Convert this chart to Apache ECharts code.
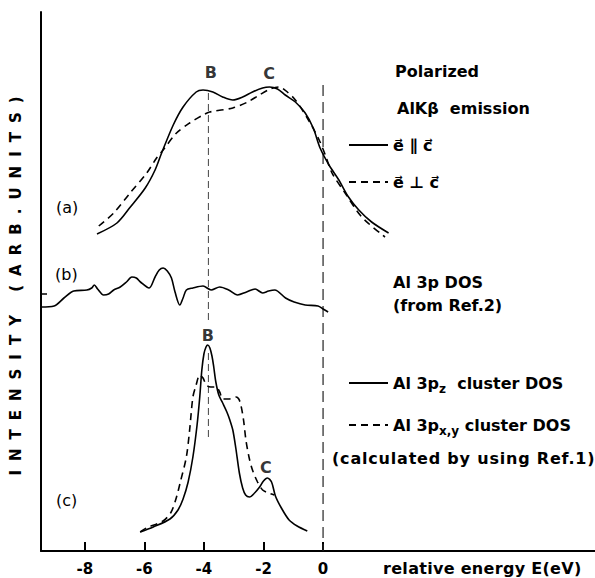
<!DOCTYPE html>
<html><head><meta charset="utf-8">
<script src="https://cdn.jsdelivr.net/npm/echarts@6/dist/echarts.min.js"></script>
<style>html,body{margin:0;padding:0;background:#fff}#c{width:595px;height:578px}</style>
</head><body><div id="c"></div>
<script>
// x: relative energy E (eV); y: intensity (arbitrary units, offsets stacked per panel)
const xTicks = [-8, -6, -4, -2, 0];
const yTicks = [257];

// (a) polarized AlKβ emission, e ∥ c (solid)
const emisPar = [[-7.59,317],[-6.92,328],[-6.47,344],[-5.97,363],[-5.64,381],[-5.42,398],[-5.03,426],[-4.70,444],[-4.26,459],[-4.03,461],[-3.70,459],[-3.37,454],[-3.03,451],[-2.70,454],[-2.37,459],[-2.03,463],[-1.80,464],[-1.53,462],[-1.27,456],[-0.93,449],[-0.60,438],[-0.33,423],[-0.10,403],[0.20,386],[0.53,371],[0.83,355],[1.20,341],[1.63,329],[2.20,318]];
// (a) e ⊥ c (dashed)
const emisPerp = [[-7.53,325],[-7.03,338],[-6.48,358],[-5.92,378],[-5.59,393],[-5.37,401],[-4.92,418],[-4.48,428],[-4.03,436],[-3.81,439],[-3.03,443],[-2.53,449],[-2.14,456],[-1.77,462],[-1.47,464],[-1.20,459],[-0.93,451],[-0.53,433],[-0.13,411],[0.10,394],[0.30,378],[0.74,358],[1.30,334],[2.08,314]];
// (b) Al 3p DOS (from Ref.2)
const dos3p = [[-9.47,244],[-9.03,245],[-8.70,253],[-8.37,260],[-7.93,261],[-7.77,263],[-7.68,266],[-7.57,262],[-7.37,256],[-7.20,257],[-7.03,261],[-6.81,264],[-6.60,269],[-6.42,274],[-6.27,273],[-6.13,269],[-5.84,263],[-5.64,274],[-5.50,281],[-5.37,283],[-5.23,280],[-5.09,273],[-4.97,259],[-4.81,246],[-4.70,253],[-4.59,261],[-4.37,263],[-4.03,265],[-3.76,261],[-3.47,264],[-3.17,261],[-2.87,256],[-2.57,259],[-2.28,262],[-2.03,258],[-1.83,260],[-1.62,261],[-1.26,253],[-0.97,249],[-0.60,246],[-0.17,245],[0.00,242],[0.17,239]];
// (c) Al 3pz cluster DOS (solid)
const clusterZ = [[-6.14,19],[-5.70,24],[-5.14,32],[-4.87,41],[-4.70,52],[-4.53,69],[-4.37,94],[-4.23,126],[-4.14,154],[-4.07,181],[-4.00,197],[-3.93,204],[-3.87,206],[-3.80,203],[-3.73,195],[-3.67,184],[-3.60,169],[-3.50,156],[-3.37,148],[-3.23,139],[-3.13,131],[-3.03,121],[-2.93,103],[-2.81,78],[-2.70,63],[-2.60,56],[-2.47,54],[-2.30,58],[-2.13,64],[-2.00,70],[-1.87,73],[-1.73,69],[-1.60,55],[-1.40,43],[-1.14,31],[-0.87,25],[-0.53,20]];
// (c) Al 3px,y cluster DOS (dashed)
const clusterXY = [[-6.14,19],[-5.93,23],[-5.37,30],[-5.10,39],[-4.92,54],[-4.80,68],[-4.59,94],[-4.48,121],[-4.37,154],[-4.27,165],[-4.14,176],[-4.03,173],[-3.92,166],[-3.77,164],[-3.59,164],[-3.47,159],[-3.37,152],[-3.17,152],[-2.92,154],[-2.83,152],[-2.76,146],[-2.67,131],[-2.59,111],[-2.48,93],[-2.37,81],[-2.20,69],[-2.03,61],[-1.83,58],[-1.64,56]];
// reference lines: peak B position and E = 0
const peakBLineUpper = [[-3.85, 458], [-3.85, 231]];
const peakBLineLower = [[-3.85, 198], [-3.85, 111]];
const zeroLine = [[0, 466], [0, 0]];
// peak labels
const peakLabels = [
  {name: 'B', value: [-3.77, 479]},
  {name: 'C', value: [-1.81, 478]},
  {name: 'B', value: [-3.87, 216]},
  {name: 'C', value: [-1.92, 84]}
];

const F = 'DejaVu Sans';
const nameParallel = 'e\u20D7 \u2225 c\u20D7';
const namePerp = 'e\u20D7 \u22A5 c\u20D7';
const nameZ = 'Al 3pz cluster DOS';
const nameXY = 'Al 3px,y cluster DOS';
const yTitle = 'INTENSITY (ARB.UNITS)';
const calcNote = '(calculated by using Ref.1)';
const xTitle = 'relative energy E(eV)';

const chart = echarts.init(document.getElementById('c'), null, {renderer: 'svg'});
const lineS = (name, data, dashed) => ({
  name, type: 'line', data, smooth: 0.3, symbol: 'none', silent: true,
  lineStyle: {color: '#000', width: 1.6, type: dashed ? [7, 5] : 'solid'},
  itemStyle: {color: '#000'}
});
const refS = (name, data, width, dash, color) => ({
  name, type: 'line', data, symbol: 'none', silent: true, z: 1,
  lineStyle: {color, width, type: dash}
});
const legendText = {fontFamily: F, fontWeight: 'bold', fontSize: 16, color: '#000',
  rich: {s: {fontFamily: F, fontWeight: 'bold', fontSize: 12, color: '#000', padding: [12, 0, 0, 0]}}};
const txt = (text, x, y, opt) => ({type: 'text', x, y, silent: true,
  style: Object.assign({text, fill: '#000', font: 'bold 16px "DejaVu Sans"', align: 'left', verticalAlign: 'middle'}, opt || {})});

chart.setOption({
  animation: false,
  backgroundColor: '#fff',
  grid: {left: 35, right: 0, top: 12, bottom: 27},
  xAxis: {
    type: 'value', min: -9.47, max: 9.13,
    axisLine: {show: true, onZero: false, lineStyle: {color: '#000', width: 2}},
    axisTick: {show: true, inside: true, length: 9, customValues: xTicks, lineStyle: {color: '#000', width: 2}},
    axisLabel: {customValues: xTicks, fontFamily: F, fontWeight: 'bold', fontSize: 15, color: '#000', margin: 10},
    splitLine: {show: false}
  },
  yAxis: {
    type: 'value', min: 0, max: 539,
    axisLine: {show: true, onZero: false, lineStyle: {color: '#000', width: 2}},
    axisTick: {show: true, inside: true, length: 6, customValues: yTicks, lineStyle: {color: '#000', width: 1.5}},
    axisLabel: {show: false}, splitLine: {show: false},
    name: yTitle, nameLocation: 'middle', nameGap: 18, nameRotate: 90,
    nameTextStyle: {fontFamily: F, fontWeight: 'bold', fontSize: 15, color: '#000'}
  },
  legend: [
    {data: [nameParallel, namePerp], orient: 'vertical', left: 348, top: 137, padding: 0, itemWidth: 39, itemHeight: 16,
     itemGap: 21, selectedMode: false, textStyle: legendText, itemStyle: {opacity: 0}},
    {data: [nameZ, nameXY], orient: 'vertical', left: 348, top: 375, padding: 0, itemWidth: 39, itemHeight: 16,
     itemGap: 22, selectedMode: false, textStyle: legendText, itemStyle: {opacity: 0},
     formatter: n => n === nameZ ? 'Al 3p{s|z}  cluster DOS' : 'Al 3p{s|x,y} cluster DOS'}
  ],
  series: [
    lineS(nameParallel, emisPar, false),
    lineS(namePerp, emisPerp, true),
    lineS('Al 3p DOS', dos3p, false),
    lineS(nameZ, clusterZ, false),
    lineS(nameXY, clusterXY, true),
    refS('peakB1', peakBLineUpper, 1, [7, 4], '#444'),
    refS('peakB2', peakBLineLower, 1, [7, 4], '#444'),
    refS('zero', zeroLine, 1.2, [11, 6], '#222'),
    {
      name: 'peaks', type: 'scatter', data: peakLabels, symbolSize: 0, silent: true,
      label: {show: true, position: 'inside', formatter: '{b}', fontFamily: F, fontWeight: 'bold', fontSize: 16, color: '#000'}
    }
  ],
  graphic: [
    txt('Polarized', 395, 71),
    txt('AlK\u03B2  emission', 397, 108),
    txt('Al 3p DOS', 393, 282),
    txt('(from Ref.2)', 393, 305),
    txt(calcNote, 332, 458),
    txt(xTitle, 383, 568),
    txt('(a)', 56, 207, {font: '16px "DejaVu Sans"'}),
    txt('(b)', 55, 274, {font: '16px "DejaVu Sans"'}),
    txt('(c)', 56, 500, {font: '16px "DejaVu Sans"'})
  ]
});

// wide tracking of the original lettering (SVG text keeps real text)
const spacing = {};
spacing[yTitle] = '9px';
spacing[calcNote] = '0.8px';
spacing[xTitle] = '0.3px';
document.querySelectorAll('#c text').forEach(t => {
  const s = spacing[t.textContent];
  if (s) t.style.letterSpacing = s;
});
</script></body></html>
